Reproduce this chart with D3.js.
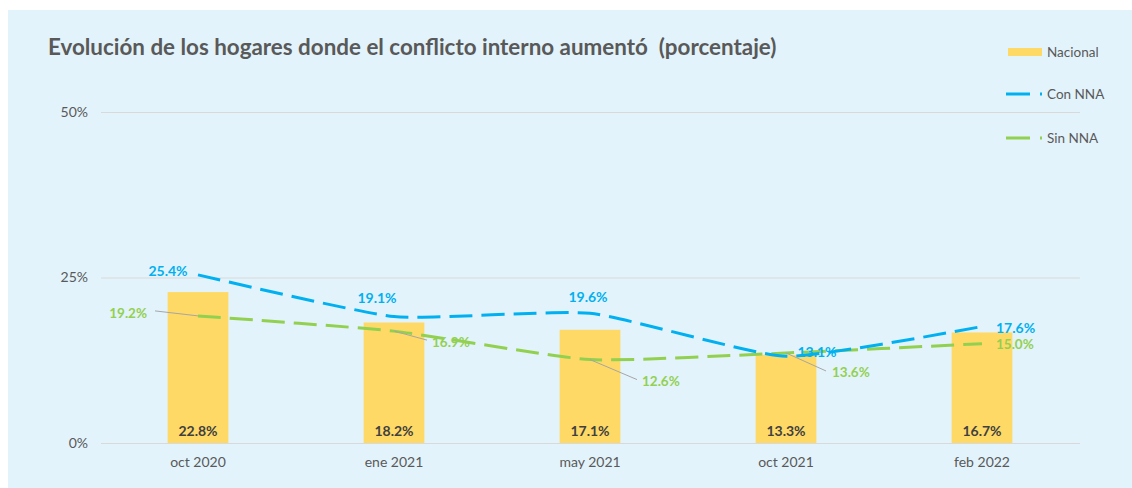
<!DOCTYPE html>
<html><head><meta charset="utf-8">
<script src="https://cdn.jsdelivr.net/npm/d3@7"></script>
<style>
html,body{margin:0;padding:0;background:#fff;}
svg{display:block;font-family:Lato, "Open Sans", sans-serif;}
</style></head>
<body>
<svg id="chart" width="1132" height="488"></svg>
<script>
const categories = ["oct 2020","ene 2021","may 2021","oct 2021","feb 2022"];
const nacional = [22.8, 18.2, 17.1, 13.3, 16.7];
const conNNA = [25.4, 19.1, 19.6, 13.1, 17.6];
const sinNNA = [19.2, 16.9, 12.6, 13.6, 15.0];
const yTicks = [0, 25, 50];
const title = "Evolución de los hogares donde el conflicto interno aumentó  (porcentaje)";
const seriesNames = ["Nacional", "Con NNA", "Sin NNA"];

const colors = {bar:"#FFD966", con:"#00B0F0", sin:"#92D050", grid:"#D9D9D9", text:"#595959", dark:"#404040", bg:"#E3F3FB", leader:"#A6A6A6"};

const svg = d3.select("#chart");
svg.append("rect").attr("x",8).attr("y",10).attr("width",1124).attr("height",478).attr("fill",colors.bg);

const x = d3.scaleBand().domain(categories).range([100,1080]).paddingInner(0.69).paddingOuter(0.345);
const y = d3.scaleLinear().domain([0,50]).range([443,112]);
const cx = c => x(c) + x.bandwidth()/2;

svg.append("text").attr("x",48).attr("y",55).attr("fill",colors.text)
  .style("white-space","pre")
  .attr("font-size",22.4).attr("font-weight","bold").text(title);

// grid
const yAxis = d3.axisLeft(y).tickValues(yTicks).tickFormat(d=>d+"%").tickSize(-979).tickPadding(13);
const gy = svg.append("g").attr("transform","translate(101,0)").call(yAxis);
gy.select(".domain").remove();
gy.selectAll(".tick line").attr("stroke",colors.grid).attr("stroke-width",1);
gy.selectAll(".tick text").attr("fill",colors.text).attr("font-size",14).attr("font-family","Lato, sans-serif");

// x axis labels
const xAxis = d3.axisBottom(x).tickSize(0).tickPadding(14);
const gx = svg.append("g").attr("transform","translate(0,443)").call(xAxis);
gx.select(".domain").remove();
gx.selectAll(".tick text").attr("fill",colors.text).attr("font-size",14).attr("font-family","Lato, sans-serif");

// bars
svg.append("g").selectAll("rect").data(nacional).join("rect")
  .attr("x",(d,i)=>x(categories[i])).attr("width",x.bandwidth())
  .attr("y",d=>y(d)).attr("height",d=>y(0)-y(d)).attr("fill",colors.bar);
svg.append("g").selectAll("text").data(nacional).join("text")
  .attr("x",(d,i)=>cx(categories[i])).attr("y",436).attr("text-anchor","middle")
  .attr("font-size",14).attr("font-weight","bold").attr("fill",colors.dark)
  .text(d=>d.toFixed(1)+"%");

// lines
const line = d3.line().x((d,i)=>cx(categories[i])).y(d=>y(d)).curve(d3.curveCardinal.tension(0.5));
svg.append("path").datum(sinNNA).attr("d",line).attr("fill","none")
  .attr("stroke",colors.sin).attr("stroke-width",3).attr("stroke-dasharray","23,9");
svg.append("path").datum(conNNA).attr("d",line).attr("fill","none")
  .attr("stroke",colors.con).attr("stroke-width",3).attr("stroke-dasharray","23,9");

// labels: offsets relative to points
const conOff = [[-30,-4,"middle"],[-17,-18,"middle"],[-2,-16,"middle"],[31,-4,"middle"],[14,2,"start"]];
const sinOff = [[-51,-3,"end",[-43,-5]],[38,11,"start",[33,9]],[52,22,"start",[47,20]],[46,19,"start",[40,18]],[14,1,"start",null]];

conNNA.forEach((v,i)=>{
  const px = cx(categories[i]), py = y(v);
  svg.append("text").attr("x",px+conOff[i][0]).attr("y",py+conOff[i][1]).attr("dy","0.35em")
    .attr("text-anchor",conOff[i][2]).attr("font-size",14).attr("font-weight","bold")
    .attr("fill",colors.con).text(v.toFixed(1)+"%");
});
sinNNA.forEach((v,i)=>{
  const px = cx(categories[i]), py = y(v);
  const o = sinOff[i];
  if(o[3]) svg.append("line").attr("x1",px).attr("y1",py).attr("x2",px+o[3][0]).attr("y2",py+o[3][1])
    .attr("stroke",colors.leader).attr("stroke-width",1);
  svg.append("text").attr("x",px+o[0]).attr("y",py+o[1]).attr("dy","0.35em")
    .attr("text-anchor",o[2]).attr("font-size",13.5).attr("font-weight","bold")
    .attr("fill",colors.sin).text(v.toFixed(1)+"%");
});

// legend
const lg = svg.append("g");
lg.append("rect").attr("x",1008).attr("y",48).attr("width",34).attr("height",8).attr("fill",colors.bar);
[[seriesNames[0],52],[seriesNames[1],94],[seriesNames[2],138]].forEach(([n,yy])=>{
  lg.append("text").attr("x",1047).attr("y",yy).attr("dy","0.35em").attr("font-size",13.5)
    .attr("fill",colors.text).text(n);
});
[[colors.con,94],[colors.sin,138]].forEach(([c,yy])=>{
  lg.append("line").attr("x1",1006).attr("x2",1030).attr("y1",yy).attr("y2",yy).attr("stroke",c).attr("stroke-width",3);
  lg.append("line").attr("x1",1040).attr("x2",1042).attr("y1",yy).attr("y2",yy).attr("stroke",c).attr("stroke-width",3);
});
</script>
</body></html>
